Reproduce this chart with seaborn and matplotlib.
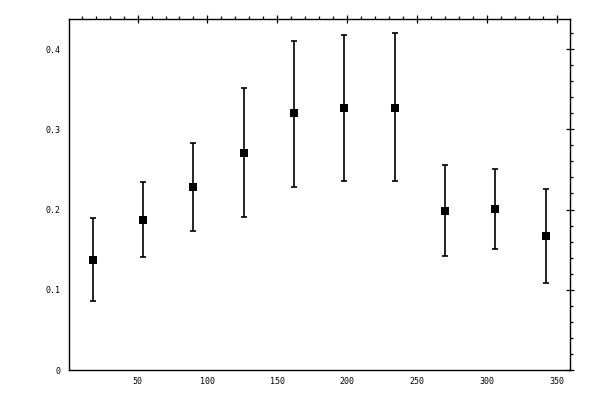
import matplotlib
matplotlib.use('Agg')
import matplotlib.pyplot as plt
import seaborn as sns
import pandas as pd
from matplotlib.ticker import MultipleLocator

# values
x_vals = [18, 54, 90, 126, 162, 198, 234, 270, 306, 342]
y_vals = [0.137, 0.187, 0.228, 0.271, 0.320, 0.327, 0.327, 0.198, 0.201, 0.167]
y_upper = [0.190, 0.234, 0.283, 0.351, 0.410, 0.418, 0.420, 0.255, 0.251, 0.225]
y_lower = [0.086, 0.141, 0.173, 0.191, 0.228, 0.235, 0.235, 0.142, 0.151, 0.108]

df = pd.DataFrame({'x': x_vals, 'y': y_vals, 'hi': y_upper, 'lo': y_lower})

sns.set_style('white')
plt.rcParams['font.family'] = ['DejaVu Sans Mono']
plt.rcParams['text.color'] = 'black'

fig = plt.figure(figsize=(6, 4), dpi=100)
ax = fig.add_axes([0.1155, 0.075, 0.835, 0.8775])

# error bars
ax.errorbar(df['x'], df['y'],
            yerr=[df['y'] - df['lo'], df['hi'] - df['y']],
            fmt='none', ecolor='black', elinewidth=1.2, capsize=2.0,
            capthick=1.2, zorder=2)
# square markers
sns.scatterplot(data=df, x='x', y='y', marker='s', s=28, color='black',
                edgecolor='black', linewidth=0, ax=ax, zorder=3)

ax.set_xlim(1.2, 359.5)
ax.set_ylim(0, 0.4375)
ax.set_xlabel('')
ax.set_ylabel('')

ax.xaxis.set_minor_locator(MultipleLocator(10))
ax.yaxis.set_minor_locator(MultipleLocator(0.02))
ax.set_xticks([50, 100, 150, 200, 250, 300, 350])
ax.set_xticklabels(['50', '100', '150', '200', '250', '300', '350'])
ax.set_yticks([0, 0.1, 0.2, 0.3, 0.4])
ax.set_yticklabels(['0', '0.1', '0.2', '0.3', '0.4'])

for side in ['left', 'right', 'top', 'bottom']:
    ax.spines[side].set_visible(True)
    ax.spines[side].set_color('black')
    ax.spines[side].set_linewidth(1.0)

ax.tick_params(which='major', direction='inout', length=6, width=0.9,
               color='black', labelcolor='black', labelsize=6, pad=2,
               top=True, right=True, labeltop=False, labelright=False)
ax.tick_params(which='minor', direction='out', length=2.5, width=0.9,
               color='black', top=True, right=True)
ax.tick_params(axis='y', which='major', pad=3)

fig.savefig('out.png', dpi=100)
